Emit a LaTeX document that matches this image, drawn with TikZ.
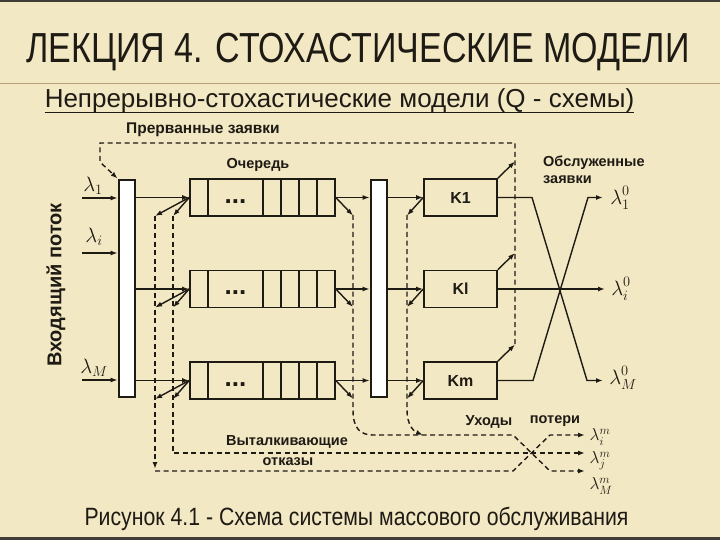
\documentclass[tikz,border=0pt]{standalone}
\usepackage{fontspec}
\setmainfont{Liberation Sans}
\newfontfamily\narrowfont[FakeStretch=0.81]{Liberation Sans}
\newfontfamily\capfont[FakeStretch=0.85]{Liberation Sans}
\usetikzlibrary{arrows.meta}
\definecolor{slidebg}{HTML}{F3E8C4}
\definecolor{ink}{HTML}{1E1A14}
\definecolor{rule}{HTML}{B9A27A}
\newcommand{\upsup}[1]{\raisebox{2pt}{$\scriptstyle #1$}}
\tikzset{
  title/.style={font=\narrowfont\fontsize{42}{42}\selectfont, text=ink, inner sep=0pt},
  subtitle/.style={font=\fontsize{26}{26}\selectfont, text=ink, inner sep=0pt},
  figcap/.style={font=\capfont\fontsize{25}{25}\selectfont, text=ink, inner sep=0pt},
  queue/.style={draw=ink, line width=1.6pt, minimum width=145pt, minimum height=37pt, inner sep=0pt},
  server/.style={draw=ink, line width=1.6pt, minimum width=73pt, minimum height=37pt, inner sep=0pt,
    font=\bfseries\fontsize{16}{16}\selectfont, text=ink},
  bar/.style={draw=ink, line width=2.8pt, fill=white, minimum width=16pt, minimum height=217pt, inner sep=0pt},
  lbl/.style={font=\bfseries\fontsize{14.5}{14.5}\selectfont, text=ink, inner sep=0pt},
  lam/.style={font=\fontsize{20}{20}\selectfont, text=ink, inner sep=0pt},
  lamsm/.style={font=\fontsize{18}{18}\selectfont, text=ink, inner sep=0pt},
  flow/.style={draw=ink, line width=1.4pt},
  back/.style={draw=ink, line width=1.4pt, dash pattern=on 5pt off 3.5pt},
}
\begin{document}
\begin{tikzpicture}[x=1pt,y=-1pt,>={Latex[length=7pt,width=5pt]}]
\fill[slidebg] (0,0) rectangle (720,540);
\useasboundingbox (0,0) rectangle (720,540);
\draw[ink!85, line width=2pt] (0,1) -- (720,1);
\draw[ink!85, line width=3pt] (0,538.5) -- (720,538.5);
\draw[rule, line width=0.8pt] (0,83) -- (720,83);

\node[title, anchor=base] (head) at (358,63) {ЛЕКЦИЯ 4. СТОХАСТИЧЕСКИЕ МОДЕЛИ};
\node[subtitle, anchor=base] (sub) at (339.5,108) {Непрерывно-стохастические модели (Q - схемы)};
\draw[ink, line width=1.5pt] ([yshift=-4.5pt]sub.base west) -- ([yshift=-4.5pt]sub.base east);
\node[figcap, anchor=base] (caption) at (356.5,525) {Рисунок 4.1 - Схема системы массового обслуживания};

\node[bar] (mux) at (127,288.5) {};
\node[bar] (demux) at (379,288.5) {};

\node[lbl, font=\bfseries\fontsize{20}{20}\selectfont, rotate=90] (inflow) at (56,285) {Входящий поток};
\foreach \n/\y/\lx/\ly/\s in {1/198/93/186/1, 2/253/94/237/i, 3/380/94/368/M} {
  \coordinate (in\n) at (82,\y);
  \draw[flow,->] (in\n) -- (in\n -| mux.west);
  \node[lam] (lin\n) at (\lx,\ly) {$\lambda_{\s}$};
}

\foreach \r/\y/\k in {1/197.5/K1, 2/289/Kl, 3/380.5/Km} {
  \node[queue] (q\r) at (262.5,\y) {};
  \foreach \cx in {208,263,281,299,317}
    \draw[ink, line width=1.6pt] (\cx,\y-18.5) -- (\cx,\y+18.5);
  \node[lbl, font=\bfseries\fontsize{26}{26}\selectfont] (dots\r) at (235.5,\y+4) {...};
  \node[server] (k\r) at (460.5,\y) {\k};
  \draw[flow,->] (q\r.west -| mux.east) -- (q\r.west);
  \draw[flow,->] (q\r.east) -- (q\r.east -| demux.west);
  \draw[flow,->] (k\r.west -| demux.east) -- (k\r.west);
  \draw[flow,->] (q\r.west) -- (155,\y+18.5);
  \draw[flow,->] (q\r.west) -- (173,\y+18.5);
  \draw[flow,->] (q\r.east) -- (353,\y+18);
  \draw[flow,->] (k\r.west) -- (407,\y+18);
  \draw[flow,->] (k\r.north east) -- (515,\y-36);
}

\draw[back,->] (515,344) -- (515,143) -- (100,143) -- (100,162) -- (mux.north west);
\draw[back,->] (155,216) -- (155,469);
\draw[back,->] (173,216) -- (173,453) -- (585,453);
\draw[back,->] (155,471) -- (513,471) -- (550,435) -- (585,435);
\draw[back,->] (353,215) -- (353,410) .. controls (353,428) and (360,435) .. (373,435)
  -- (513,435) -- (550,471) -- (585,471);
\draw[back,->] (407,215) -- (407,410) .. controls (407,424) and (413,431) .. (423,435);

\draw[flow,->] (k1.east) -- (532,197.5) -- (587,380.5) -- (603,380.5);
\draw[flow,->] (k3.east) -- (533,380.5) -- (588,197.5) -- (603,197.5);
\draw[flow,->] (k2.east) -- (605,289);

\node[lbl, font=\bfseries\fontsize{15.5}{15.5}\selectfont] (interrupted) at (203,130) {Прерванные заявки};
\node[lbl] (queuelbl) at (258,165) {Очередь};
\node[lbl, anchor=west] (served1) at (543,163) {Обслуженные};
\node[lbl, anchor=west] (served2) at (543,180) {заявки};
\node[lbl] (leave) at (489,422) {Уходы};
\node[lbl] (loss) at (555,421) {потери};
\node[lbl] (push1) at (287,442) {Выталкивающие};
\node[lbl] (push2) at (288,462) {отказы};

\node[lam] (lout1) at (620,198) {$\lambda_1^{\upsup{0}}$};
\node[lam] (lout2) at (621,289) {$\lambda_i^{\upsup{0}}$};
\node[lam] (lout3) at (623,378) {$\lambda_M^{\upsup{0}}$};
\node[lamsm] (lloss1) at (600,437) {$\lambda_i^m$};
\node[lamsm] (lloss2) at (600,461) {$\lambda_j^m$};
\node[lamsm] (lloss3) at (601,486) {$\lambda_M^m$};
\end{tikzpicture}
\end{document}
